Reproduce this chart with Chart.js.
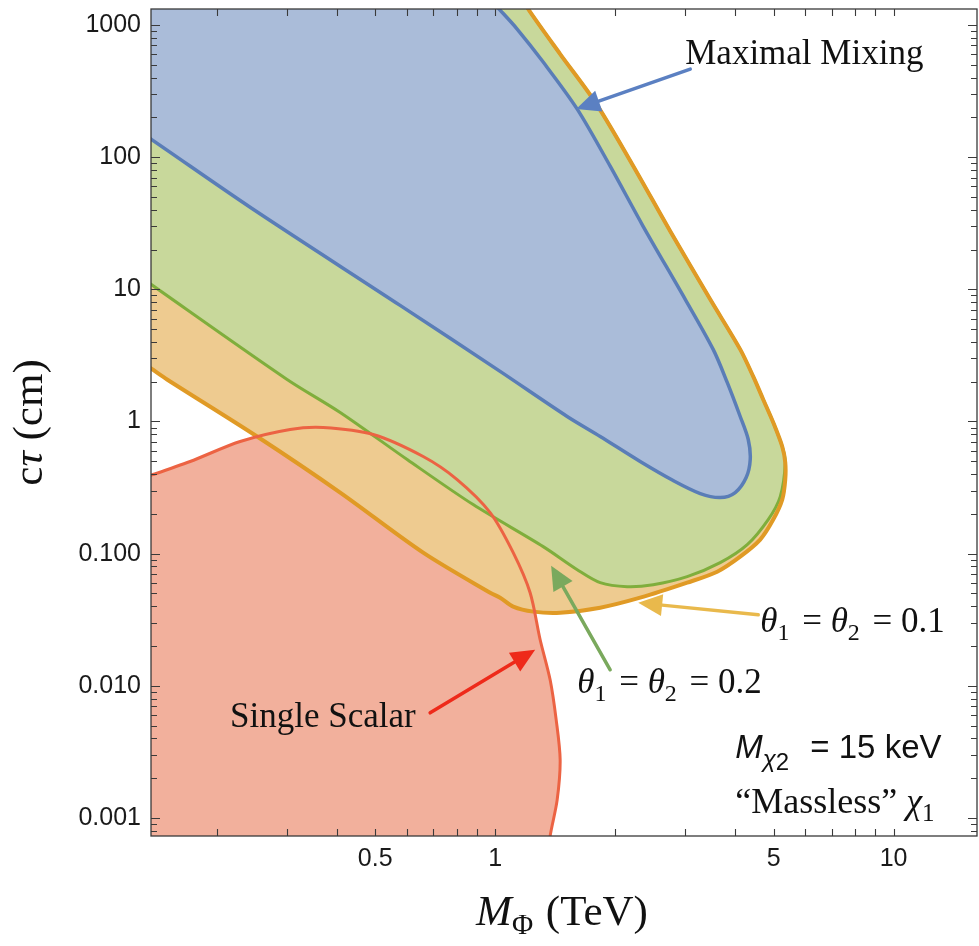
<!DOCTYPE html>
<html><head><meta charset="utf-8">
<script src="https://cdn.jsdelivr.net/npm/chart.js@4.4.0/dist/chart.umd.min.js"></script>
<style>
html,body{margin:0;padding:0;background:#fff;}
#wrap{position:relative;width:979px;height:946px;}
</style></head><body>
<div id="wrap"><canvas id="c" width="979" height="946"></canvas></div>
<script>
// ---- axes ----
const X_RANGE = [0.1368, 16.2];
const Y_RANGE = [0.00073, 1322];
const xTickValues = [0.5, 1, 5, 10];
const xTickLabels = ['0.5', '1', '5', '10'];
const yTickValues = [0.001, 0.01, 0.1, 1, 10, 100, 1000];
const yTickLabels = ['0.001', '0.010', '0.100', '1', '10', '100', '1000'];

// ---- regions (M_Phi in TeV, c tau in cm) ----
// Maximal mixing (blue) boundary
const blueX = [0.1284,0.1368,0.2426,0.5773,1.029,1.516,1.835,2.312,2.798,3.272,3.672,4.005,4.267,4.368,4.318,4.122,3.824,3.526,3.0,2.352,1.944,1.607,1.320,1.1355,1.0175,0.9438];
const blueY = [154.6,136.9,41.8,7.56,2.393,1.091,0.7698,0.4977,0.3573,0.2848,0.2656,0.2899,0.3765,0.5154,0.7305,1.091,1.975,3.512,8.40,30.0,85.5,231,524.4,932.6,1345,1717];
// theta1 = theta2 = 0.2 (green) boundary
const greenX = [0.1284,0.1368,0.3004,0.4083,0.6013,0.8806,1.320,1.607,1.835,2.145,2.493,3.034,3.672,4.293,4.846,5.195,5.348,5.255,4.989,4.708,4.443,4.122,3.465,2.751,2.208,1.783,1.456,1.210,1.155];
const greenY = [12.55,10.91,2.080,1.170,0.5154,0.2350,0.1130,0.0756,0.0603,0.0562,0.0582,0.0670,0.0855,0.1170,0.1810,0.2703,0.4891,0.6467,0.9827,1.468,2.193,3.512,8.40,27.5,88.5,261,603,1322,1717];
// theta1 = theta2 = 0.1 (orange) boundary
const orangeX = [0.1284,0.1368,0.1501,0.2526,0.4083,0.6596,0.9715,1.029,1.110,1.246,1.456,1.835,2.312,3.034,3.609,4.122,4.627,4.989,5.255,5.348,5.348,5.255,4.989,4.708,4.443,4.122,3.465,2.751,2.208,1.783,1.456,1.210,1.155];
const orangeY = [2.848,2.520,2.080,0.7698,0.2899,0.1018,0.0506,0.04642,0.0397,0.0364,0.0357,0.0390,0.04642,0.0603,0.0730,0.0949,0.1277,0.1810,0.2565,0.3636,0.4891,0.6467,0.9827,1.468,2.193,3.512,8.40,27.5,88.5,261,603,1322,1717];
// Single scalar (red) boundary
const redX = [0.1284,0.1384,0.1715,0.2290,0.3057,0.3700,0.4940,0.6596,0.8027,0.9715,1.110,1.224,1.297,1.374,1.423,1.456,1.431,1.374,1.366];
const redY = [0.370,0.3967,0.4977,0.7055,0.8697,0.9006,0.7971,0.5431,0.3636,0.2045,0.1018,0.0506,0.02231,0.01110,0.005527,0.002751,0.001369,0.000730,0.000572];

// corners beyond the frame used to close the filled regions
const TOP_LEFT = {x: 0.1, y: 3000};
const BOTTOM_LEFT = {x: 0.1, y: 0.0005};

// annotation arrows: tail -> tip
const arrows = [
  {from: [3.088, 464], to: [1.597, 231], color: '#5b80c2'},
  {from: [4.575, 0.0345], to: [2.286, 0.0425], color: '#e9b94c'},
  {from: [1.944, 0.01322], to: [1.382, 0.0811], color: '#7aa95d'},
  {from: [0.6868, 0.006245], to: [1.260, 0.01874], color: '#ee2a1a'}
];

const pts = (xs, ys) => xs.map((x, i) => ({x: x, y: ys[i]}));

const C = {
  blueFill: '#aabcd9', blueLine: '#5a7db7',
  greenFill: '#c8d89b', greenLine: '#7fae3c',
  orangeFill: '#eecb90', orangeLine: '#e09a25',
  redFill: '#f2b09c', redLine: '#ec6343'
};

function fillDs(data, color, order) {
  return {data: data, showLine: true, fill: 'shape', backgroundColor: color, borderWidth: 0,
          pointRadius: 0, tension: 0.3, order: order, clip: 0};
}
function lineDs(data, color, w, order) {
  return {data: data, showLine: true, fill: false, borderColor: color, borderWidth: w,
          pointRadius: 0, tension: 0.3, order: order, clip: 0, borderCapStyle: 'round', borderJoinStyle: 'round'};
}

const datasets = [
  fillDs(pts(redX, redY).concat([BOTTOM_LEFT]), C.redFill, 8),
  fillDs(pts(orangeX, orangeY).concat([TOP_LEFT]), C.orangeFill, 7),
  fillDs(pts(greenX, greenY).concat([TOP_LEFT]), C.greenFill, 6),
  fillDs(pts(blueX, blueY).concat([TOP_LEFT]), C.blueFill, 5),
  lineDs(pts(greenX, greenY), C.greenLine, 3, 4),
  lineDs(pts(orangeX, orangeY), C.orangeLine, 4, 3),
  lineDs(pts(blueX, blueY), C.blueLine, 3.5, 2),
  lineDs(pts(redX, redY), C.redLine, 3, 1)
];

function drawRuns(ctx, x, y, runs, align) {
  let total = 0;
  runs.forEach(r => { ctx.font = r.font; total += ctx.measureText(r.t).width + (r.gap || 0); });
  let cx = align === 'center' ? x - total / 2 : x;
  runs.forEach(r => {
    ctx.font = r.font;
    ctx.fillText(r.t, cx, y + (r.dy || 0));
    cx += ctx.measureText(r.t).width + (r.gap || 0);
  });
}

const decor = {
  id: 'decor',
  afterDatasetsDraw(chart) {
    const {ctx, chartArea: a, scales: {x, y}} = chart;
    ctx.save();
    // frame
    ctx.strokeStyle = '#3a3a3a';
    ctx.lineWidth = 1.3;
    ctx.strokeRect(a.left, a.top, a.right - a.left, a.bottom - a.top);
    // inward ticks
    ctx.lineWidth = 1.1;
    ctx.beginPath();
    for (let d = 0.1; d < 20; d *= 10) {
      for (let k = 1; k <= 9; k++) {
        const v = d * k;
        if (v < X_RANGE[0] || v > X_RANGE[1]) continue;
        const px = Math.round(x.getPixelForValue(v)) + 0.5;
        ctx.moveTo(px, a.bottom); ctx.lineTo(px, a.bottom - 7);
        ctx.moveTo(px, a.top); ctx.lineTo(px, a.top + 7);
      }
    }
    for (let d = 0.0001; d < 2000; d *= 10) {
      for (let k = 1; k <= 9; k++) {
        const v = d * k;
        if (v < Y_RANGE[0] || v > Y_RANGE[1]) continue;
        const py = Math.round(y.getPixelForValue(v)) + 0.5;
        const len = k === 1 ? 9 : 6;
        ctx.moveTo(a.left, py); ctx.lineTo(a.left + len, py);
        ctx.moveTo(a.right, py); ctx.lineTo(a.right - len, py);
      }
    }
    ctx.stroke();

    // arrows
    arrows.forEach(ar => {
      const x0 = x.getPixelForValue(ar.from[0]), y0 = y.getPixelForValue(ar.from[1]);
      const x1 = x.getPixelForValue(ar.to[0]), y1 = y.getPixelForValue(ar.to[1]);
      const ang = Math.atan2(y1 - y0, x1 - x0);
      const hl = 24, hw = 11;
      const bx = x1 - hl * Math.cos(ang), by = y1 - hl * Math.sin(ang);
      ctx.strokeStyle = ar.color; ctx.fillStyle = ar.color;
      ctx.lineWidth = 3.5; ctx.lineCap = 'round';
      ctx.beginPath(); ctx.moveTo(x0, y0); ctx.lineTo(bx, by); ctx.stroke();
      ctx.beginPath();
      ctx.moveTo(x1, y1);
      ctx.lineTo(bx + hw * Math.sin(ang), by - hw * Math.cos(ang));
      ctx.lineTo(bx - hw * Math.sin(ang), by + hw * Math.cos(ang));
      ctx.closePath(); ctx.fill();
    });

    // annotation text
    ctx.fillStyle = '#111';
    ctx.textBaseline = 'alphabetic';
    ctx.textAlign = 'left';
    const S = '"Liberation Serif", "Times New Roman", serif';
    const SS = '"Liberation Sans", Arial, sans-serif';
    const P = (vx, vy) => [x.getPixelForValue(vx), y.getPixelForValue(vy)];
    let p = P(3.0, 506);
    drawRuns(ctx, p[0], p[1], [{t: 'Maximal Mixing', font: '35px ' + S}]);
    const theta = (val) => [
      {t: 'θ', font: 'italic 35px ' + S}, {t: '1', font: '24px ' + S, dy: 8, gap: 4},
      {t: ' = ', font: '35px ' + S},
      {t: 'θ', font: 'italic 35px ' + S}, {t: '2', font: '24px ' + S, dy: 8, gap: 4},
      {t: ' = ' + val, font: '35px ' + S}];
    p = P(4.627, 0.02565);
    drawRuns(ctx, p[0], p[1], theta('0.1'));
    p = P(1.607, 0.00885);
    drawRuns(ctx, p[0], p[1], theta('0.2'));
    p = P(0.2161, 0.00489);
    drawRuns(ctx, p[0], p[1], [{t: 'Single Scalar', font: '35px ' + S}]);
    p = P(4.005, 0.002848);
    drawRuns(ctx, p[0], p[1], [
      {t: 'M', font: 'italic 33px ' + SS}, {t: 'χ', font: 'italic 24px ' + SS, dy: 9},
      {t: '2', font: '24px ' + SS, dy: 12, gap: 12},
      {t: ' = 15 keV', font: '33px ' + SS}]);
    p = P(4.005, 0.001091);
    drawRuns(ctx, p[0], p[1], [
      {t: '\u201cMassless\u201d ', font: '36px ' + S}, {t: 'χ', font: 'italic 36px ' + S},
      {t: '1', font: '25px ' + S, dy: 8}]);

    // axis titles
    const cxm = (a.left + a.right) / 2;
    drawRuns(ctx, cxm - 2, 925, [
      {t: 'M', font: 'italic 43px ' + S}, {t: 'Φ', font: '29px ' + S, dy: 9, gap: 2},
      {t: ' (TeV)', font: '43px ' + S}], 'center');
    ctx.translate(42, (a.top + a.bottom) / 2);
    ctx.rotate(-Math.PI / 2);
    drawRuns(ctx, 0, 0, [
      {t: 'c', font: '43px ' + S}, {t: 'τ', font: 'italic 43px ' + S},
      {t: ' (cm)', font: '43px ' + S}], 'center');
    ctx.restore();
  }
};

new Chart(document.getElementById('c'), {
  type: 'scatter',
  data: {datasets: datasets},
  options: {
    responsive: false,
    animation: false,
    devicePixelRatio: 1,
    layout: {padding: {top: 9, right: 2, left: 0, bottom: 0}},
    plugins: {legend: {display: false}, tooltip: {enabled: false}},
    elements: {line: {capBezierPoints: false}},
    scales: {
      x: {
        type: 'logarithmic', min: X_RANGE[0], max: X_RANGE[1], position: 'bottom',
        grid: {display: false, drawTicks: false}, border: {display: false},
        ticks: {
          font: {family: '"Liberation Sans", Arial, sans-serif', size: 25}, color: '#1a1a1a',
          padding: 8, autoSkip: false, maxRotation: 0, minRotation: 0,
          callback: (v) => { const i = xTickValues.indexOf(v); return i >= 0 ? xTickLabels[i] : ''; }
        },
        afterBuildTicks: s => { s.ticks = xTickValues.map(v => ({value: v})); },
        afterFit: s => { s.height = 110; s.paddingLeft = 0; s.paddingRight = 0; }
      },
      y: {
        type: 'logarithmic', min: Y_RANGE[0], max: Y_RANGE[1], position: 'left',
        grid: {display: false, drawTicks: false}, border: {display: false},
        ticks: {
          font: {family: '"Liberation Sans", Arial, sans-serif', size: 25}, color: '#1a1a1a',
          padding: 10, autoSkip: false,
          callback: (v) => { const i = yTickValues.indexOf(v); return i >= 0 ? yTickLabels[i] : ''; }
        },
        afterBuildTicks: s => { s.ticks = yTickValues.map(v => ({value: v})); },
        afterFit: s => { s.width = 151; s.paddingTop = 0; s.paddingBottom = 0; }
      }
    }
  },
  plugins: [decor]
});
</script>
</body></html>
